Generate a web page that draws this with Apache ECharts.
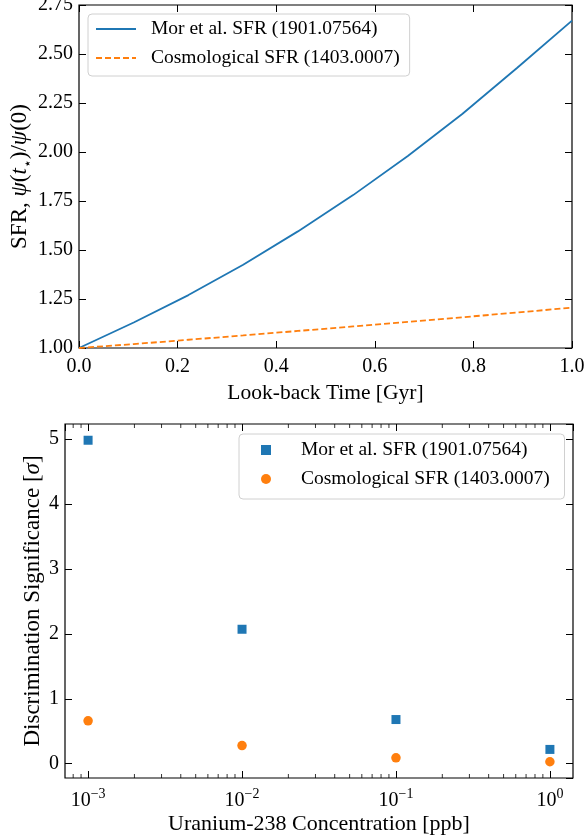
<!DOCTYPE html>
<html>
<head>
<meta charset="utf-8">
<script src="https://cdn.jsdelivr.net/npm/echarts@6/dist/echarts.min.js"></script>
<style>
  html, body { margin: 0; padding: 0; background: #fff; }
  #chart { width: 585px; height: 840px; }
</style>
</head>
<body>
<div id="chart"></div>
<script>
// Upper panel: relative star formation rate vs look-back time
const lookbackTime = [0, 0.111, 0.222, 0.333, 0.444, 0.556, 0.667, 0.778, 0.889, 1.0];
const morSFR       = [1.0, 1.13, 1.27, 1.425, 1.595, 1.78, 1.98, 2.195, 2.43, 2.67];
const cosmoSFR     = [1.0, 1.02, 1.042, 1.064, 1.087, 1.11, 1.133, 1.157, 1.181, 1.206];

// Lower panel: discrimination significance vs U-238 concentration
const uraniumPPB        = [0.001, 0.01, 0.1, 1];
const morSignificance   = [4.98, 2.07, 0.68, 0.22];
const cosmoSignificance = [0.66, 0.28, 0.09, 0.03];

// Series labels
const morName   = 'Mor et al. SFR (1901.07564)';
const cosmoName = 'Cosmological SFR (1403.0007)';

// Minor tick multipliers for the log axis
const minorMultipliers = [2, 3, 4, 5, 6, 7, 8, 9];
const decadeExponents  = [-4, -3, -2, -1, 0];

const FONT = 'Liberation Serif';
const INK = '#000';
const BLUE = '#1f77b4';
const ORANGE = '#ff7f0e';
const TICK_FS = 20;
const XNAME_FS = 21.5;
const YNAME_FS = 23;
const LEGEND_FS = 19.5;

const xLogMin = Math.pow(10, -3.15);
const xLogMax = Math.pow(10, 0.15);

const minorTickValues = [];
decadeExponents.forEach(e => minorMultipliers.forEach(m => {
  const v = m * Math.pow(10, e);
  if (v > xLogMin && v < xLogMax) minorTickValues.push(v);
}));

const tickStyle = (len) => ({ show: true, inside: true, length: len, lineStyle: { color: INK, width: 1 } });
const noLine = { show: false, onZero: false };
const labelFont = { fontFamily: FONT, fontSize: TICK_FS, color: INK };

const supRich = {
  b: { fontFamily: FONT, fontSize: TICK_FS, color: INK, lineHeight: 24, verticalAlign: 'bottom' },
  s: { fontFamily: FONT, fontSize: 14, color: INK, lineHeight: 24, verticalAlign: 'top', padding: [0, 0, 6, 0] }
};
function logLabel(v) {
  const e = Math.round(Math.log10(v));
  if (Math.abs(Math.log10(v) - e) > 1e-6) return '';
  const exp = e < 0 ? '\u2212' + (-e) : String(e);
  return '{b|10}{s|' + exp + '}';
}

const legendBox = {
  orient: 'vertical', itemGap: 7,
  backgroundColor: '#fff', borderColor: '#d0d0d0', borderWidth: 1, borderRadius: 4
};

const gridBase = { show: true, borderColor: INK, borderWidth: 1.2, backgroundColor: 'transparent', containLabel: false, outerBoundsMode: 'none' };

const chart = echarts.init(document.getElementById('chart'), null, { renderer: 'canvas' });

const option = {
  animation: false,
  backgroundColor: '#fff',
  grid: [
    Object.assign({ left: 79, top: 5, width: 493, height: 343 }, gridBase),
    Object.assign({ left: 65, top: 424, width: 508, height: 354 }, gridBase)
  ],
  legend: [
    Object.assign({}, legendBox, {
      left: 88, top: 14,
      itemWidth: 40, itemHeight: 14,
      padding: [4, 10, 7, 7],
      itemStyle: { opacity: 0 },
      textStyle: { fontFamily: FONT, fontSize: LEGEND_FS, color: INK, lineHeight: 22, padding: [0, 0, 0, 10] },
      data: [morName, cosmoName]
    }),
    Object.assign({}, legendBox, {
      left: 239, top: 434,
      itemWidth: 10, itemHeight: 10,
      padding: [5, 10, 9, 22],
      textStyle: { fontFamily: FONT, fontSize: LEGEND_FS, color: INK, lineHeight: 22, padding: [0, 0, 0, 25] },
      data: [morName + ' ', cosmoName + ' ']
    })
  ],
  xAxis: [
    {
      gridIndex: 0, type: 'value', min: 0, max: 1, interval: 0.2, position: 'bottom',
      axisLine: noLine, splitLine: { show: false },
      axisTick: tickStyle(7),
      axisLabel: Object.assign({ margin: 9, formatter: v => v.toFixed(1) }, labelFont),
      name: 'Look-back Time [Gyr]', nameLocation: 'middle', nameGap: 34, nameMoveOverlap: false,
      nameTextStyle: { fontFamily: FONT, fontSize: XNAME_FS, color: INK }
    },
    {
      gridIndex: 0, type: 'value', min: 0, max: 1, interval: 0.2, position: 'top',
      axisLine: noLine, splitLine: { show: false },
      axisTick: tickStyle(7), axisLabel: { show: false }
    },
    {
      gridIndex: 1, type: 'log', logBase: 10, min: xLogMin, max: xLogMax, position: 'bottom',
      axisLine: noLine, splitLine: { show: false },
      axisTick: tickStyle(7),
      axisLabel: { margin: 9, formatter: logLabel, rich: supRich, showMinLabel: false, showMaxLabel: false },
      name: 'Uranium-238 Concentration [ppb]', nameLocation: 'middle', nameGap: 35, nameMoveOverlap: false,
      nameTextStyle: { fontFamily: FONT, fontSize: XNAME_FS + 0.5, color: INK }
    },
    {
      gridIndex: 1, type: 'log', logBase: 10, min: xLogMin, max: xLogMax, position: 'top',
      axisLine: noLine, splitLine: { show: false },
      axisTick: tickStyle(7), axisLabel: { show: false }
    }
  ],
  yAxis: [
    {
      gridIndex: 0, type: 'value', min: 1, max: 2.75, interval: 0.25, position: 'left',
      axisLine: noLine, splitLine: { show: false },
      axisTick: tickStyle(7),
      axisLabel: Object.assign({ margin: 6, formatter: v => v.toFixed(2) }, labelFont),
      name: 'SFR, {i|\u03c8}({i|t}{s|\u22c6})/{i|\u03c8}(0)', nameLocation: 'middle', nameRotate: 90,
      nameGap: 48, nameMoveOverlap: false,
      nameTextStyle: {
        fontFamily: FONT, fontSize: YNAME_FS, color: INK,
        rich: {
          i: { fontFamily: FONT, fontSize: YNAME_FS, fontStyle: 'italic', color: INK },
          s: { fontFamily: FONT, fontSize: 14, color: INK, verticalAlign: 'bottom', padding: [0, 0, -4, 0] }
        }
      }
    },
    {
      gridIndex: 0, type: 'value', min: 1, max: 2.75, interval: 0.25, position: 'right',
      axisLine: noLine, splitLine: { show: false },
      axisTick: tickStyle(7), axisLabel: { show: false }
    },
    {
      gridIndex: 1, type: 'value', min: -0.22, max: 5.23, position: 'left',
      axisLine: noLine, splitLine: { show: false },
      axisTick: tickStyle(7),
      axisLabel: Object.assign({
        margin: 6, showMinLabel: false, showMaxLabel: false,
        formatter: v => (Math.abs(v - Math.round(v)) < 1e-6 ? String(Math.round(v)) : '')
      }, labelFont),
      name: 'Discrimination Significance [{i|\u03c3}]', nameLocation: 'middle', nameRotate: 90,
      nameGap: 21, nameMoveOverlap: false,
      nameTextStyle: {
        fontFamily: FONT, fontSize: YNAME_FS, color: INK,
        rich: { i: { fontFamily: FONT, fontSize: YNAME_FS, fontStyle: 'italic', color: INK } }
      }
    },
    {
      gridIndex: 1, type: 'value', min: -0.22, max: 5.23, position: 'right',
      axisLine: noLine, splitLine: { show: false },
      axisTick: tickStyle(7), axisLabel: { show: false }
    }
  ],
  series: [
    {
      name: morName, type: 'line', xAxisIndex: 0, yAxisIndex: 0,
      data: lookbackTime.map((t, i) => [t, morSFR[i]]),
      symbol: 'none', color: BLUE,
      lineStyle: { color: BLUE, width: 1.8 }
    },
    {
      name: cosmoName, type: 'line', xAxisIndex: 0, yAxisIndex: 0,
      data: lookbackTime.map((t, i) => [t, cosmoSFR[i]]),
      symbol: 'none', color: ORANGE,
      lineStyle: { color: ORANGE, width: 1.8, type: [6, 3] }
    },
    {
      name: morName + ' ', type: 'scatter', xAxisIndex: 2, yAxisIndex: 2,
      data: uraniumPPB.map((u, i) => [u, morSignificance[i]]),
      symbol: 'rect', symbolSize: 9, color: BLUE, itemStyle: { color: BLUE, opacity: 1 }
    },
    {
      name: cosmoName + ' ', type: 'scatter', xAxisIndex: 2, yAxisIndex: 2,
      data: uraniumPPB.map((u, i) => [u, cosmoSignificance[i]]),
      symbol: 'circle', symbolSize: 9.5, color: ORANGE, itemStyle: { color: ORANGE, opacity: 1 }
    },
    {
      // minor ticks of the log axis, on the bottom and top edges of the lower panel
      type: 'custom', xAxisIndex: 2, yAxisIndex: 2, silent: true,
      data: minorTickValues.map(v => [v, 0]),
      renderItem: function (params, api) {
        const cs = params.coordSys;
        const x = api.coord([api.value(0), 1])[0];
        const yb = cs.y + cs.height, yt = cs.y;
        return {
          type: 'group',
          children: [
            { type: 'line', shape: { x1: x, y1: yb, x2: x, y2: yb - 4 }, style: { stroke: INK, lineWidth: 0.8 } },
            { type: 'line', shape: { x1: x, y1: yt, x2: x, y2: yt + 4 }, style: { stroke: INK, lineWidth: 0.8 } }
          ]
        };
      }
    }
  ]
};

chart.setOption(option);
</script>
</body>
</html>
